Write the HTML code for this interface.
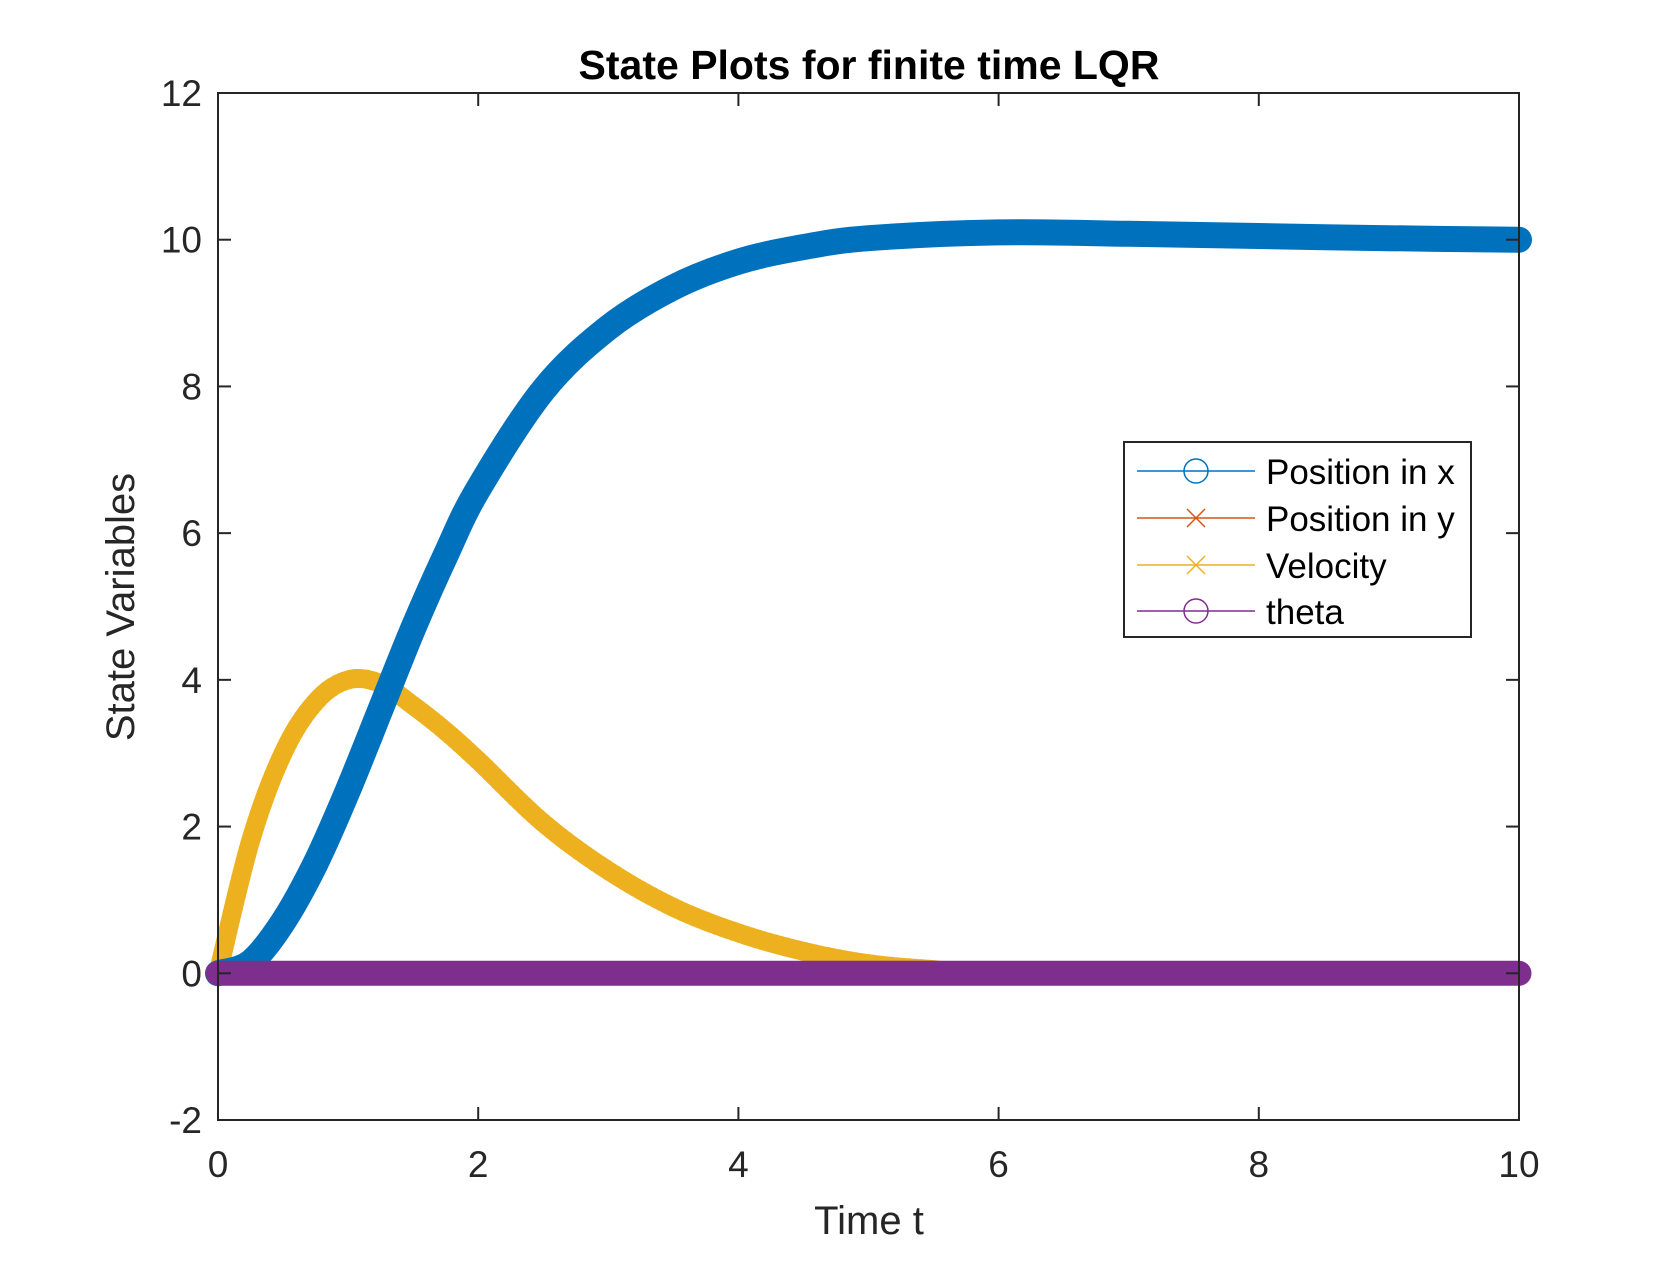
<!DOCTYPE html>
<html><head><meta charset="utf-8"><style>
html,body{margin:0;padding:0;background:#fff;}
svg text{font-family:"Liberation Sans",Arial,sans-serif;fill:#262626;}
</style></head><body>
<svg id="chart" width="1680" height="1260" viewBox="0 0 1680 1260" xmlns="http://www.w3.org/2000/svg">
<rect width="1680" height="1260" fill="#fff"/>
<g id="series"></g>
<g id="axes"></g>
<text x="869" y="79" text-anchor="middle" font-size="41" font-weight="bold" style="fill:#000">State Plots for finite time LQR</text>
<text x="869" y="1234" text-anchor="middle" font-size="40">Time t</text>
<text x="0" y="0" text-anchor="middle" font-size="40" transform="translate(134,607) rotate(-90)">State Variables</text>
<g>
<rect x="1124" y="442" width="347" height="195" fill="#fff" stroke="#262626" stroke-width="2"/>
<g>
<line x1="1137" y1="471" x2="1255" y2="471" stroke="#0072BD" stroke-width="1.5"/>
<circle cx="1196" cy="471" r="12" fill="none" stroke="#0072BD" stroke-width="1.5"/>
<text x="1266" y="484" font-size="35" style="fill:#000">Position in x</text></g>
<g>
<line x1="1137" y1="518" x2="1255" y2="518" stroke="#D95319" stroke-width="1.5"/>
<path d="M1187 509 L1205 527 M1205 509 L1187 527" stroke="#D95319" stroke-width="1.5"/>
<text x="1266" y="531" font-size="35" style="fill:#000">Position in y</text></g>
<g>
<line x1="1137" y1="565" x2="1255" y2="565" stroke="#EDB120" stroke-width="1.5"/>
<path d="M1187 556 L1205 574 M1205 556 L1187 574" stroke="#EDB120" stroke-width="1.5"/>
<text x="1266" y="578" font-size="35" style="fill:#000">Velocity</text></g>
<g>
<line x1="1137" y1="611" x2="1255" y2="611" stroke="#7E2F8E" stroke-width="1.5"/>
<circle cx="1196" cy="611" r="12" fill="none" stroke="#7E2F8E" stroke-width="1.5"/>
<text x="1266" y="624" font-size="35" style="fill:#000">theta</text></g>
</g>
</svg>
<script>
const xTicks=[0,2,4,6,8,10];
const yTicks=[-2,0,2,4,6,8,10,12];
const tPosX=[0,0.25,0.5,0.75,1,1.25,1.5,1.75,2,2.5,3,3.5,4,4.5,5,6,7,8,9,10];
const posX=[0,0.15,0.7,1.5,2.5,3.6,4.7,5.7,6.6,7.95,8.8,9.35,9.7,9.9,10.02,10.1,10.08,10.05,10.02,10.0];
const tVel=[0,0.25,0.5,0.75,1,1.25,1.5,1.75,2,2.5,3,3.5,4,4.5,5,5.5,6,10];
const vel=[0,1.8,3.0,3.7,4.0,3.95,3.65,3.3,2.9,2.05,1.4,0.9,0.55,0.3,0.13,0.05,0,0];
const tPosY=[0,10];
const posY=[0,0];
const tTheta=[0,10];
const theta=[0,0];
const L=218,R=1519,T=93,B=1120;
const xS=v=>L+(v-0)/(10-0)*(R-L);
const yS=v=>B-(v+2)/(14)*(B-T);
const NS='http://www.w3.org/2000/svg';
const ax=document.getElementById('axes');
const sr=document.getElementById('series');
function mk(tag,attrs,parent){const e=document.createElementNS(NS,tag);for(const k in attrs)e.setAttribute(k,attrs[k]);parent.appendChild(e);return e;}
const frame=mk('rect',{x:L,y:T,width:R-L,height:B-T,fill:'none',stroke:'#262626','stroke-width':2},ax);


xTicks.forEach(v=>{
 const x=xS(v);
 mk('line',{x1:x,y1:B,x2:x,y2:B-13,stroke:'#262626','stroke-width':2},ax);
 mk('line',{x1:x,y1:T,x2:x,y2:T+13,stroke:'#262626','stroke-width':2},ax);
 const t=mk('text',{x:x,y:B+57,'text-anchor':'middle','font-size':37},ax);
 t.textContent=v;
 
 
});
yTicks.forEach(v=>{
 const y=yS(v);
 mk('line',{x1:L,y1:y,x2:L+13,y2:y,stroke:'#262626','stroke-width':2},ax);
 mk('line',{x1:R,y1:y,x2:R-13,y2:y,stroke:'#262626','stroke-width':2},ax);
 const t=mk('text',{x:L-16,y:y+13,'text-anchor':'end','font-size':37},ax);
 t.textContent=v;
 
 
});
function smoothPath(ts,vs){
 const p=ts.map((t,i)=>[xS(t),yS(vs[i])]);
 let d='M'+p[0][0].toFixed(1)+' '+p[0][1].toFixed(1);
 for(let i=0;i<p.length-1;i++){
  const p0=p[Math.max(0,i-1)],p1=p[i],p2=p[i+1],p3=p[Math.min(p.length-1,i+2)];
  const c1=[p1[0]+(p2[0]-p0[0])/6,p1[1]+(p2[1]-p0[1])/6];
  const c2=[p2[0]-(p3[0]-p1[0])/6,p2[1]-(p3[1]-p1[1])/6];
  d+=' C'+c1[0].toFixed(1)+' '+c1[1].toFixed(1)+' '+c2[0].toFixed(1)+' '+c2[1].toFixed(1)+' '+p2[0].toFixed(1)+' '+p2[1].toFixed(1);
 }
 return d;
}
function line(ts,vs,color,w,name,dash){
 const p=mk('path',{d:smoothPath(ts,vs),fill:'none',stroke:color,'stroke-width':w,'stroke-linejoin':'round','stroke-linecap':'round'},sr);
 if(dash)p.setAttribute('stroke-dasharray',dash);
 
 
}
line(tVel,vel,'#EDB120',15,'velocity-line');
line(tVel,vel,'#EDB120',19,'velocity-line-markers','3 3');
line(tPosX,posX,'#0072BD',26,'position-x-line');
line(tPosY,posY,'#D95319',20,'position-y-line');
line(tTheta,theta,'#7E2F8E',25,'theta-line');
</script>
</body></html>
